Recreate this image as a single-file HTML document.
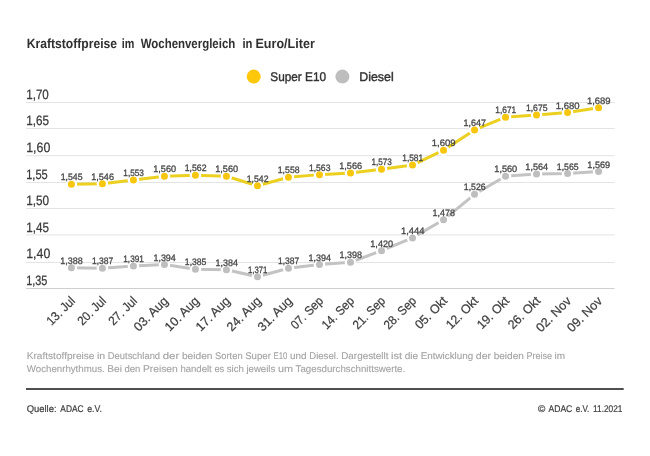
<!DOCTYPE html>
<html lang="de"><head><meta charset="utf-8"><title>Kraftstoffpreise im Wochenvergleich</title>
<style>
html,body{margin:0;padding:0;background:#fff;}
body{width:650px;height:456px;overflow:hidden;}
svg{display:block;will-change:transform;text-rendering:geometricPrecision;font-family:"Liberation Sans",sans-serif;}
</style></head><body>
<svg width="650" height="456" viewBox="0 0 650 456">
<rect width="650" height="456" fill="#fff"/>
<text y="47.7" font-size="13.4" font-weight="700" fill="#303030"><tspan x="26.7" textLength="90.4" lengthAdjust="spacingAndGlyphs">Kraftstoffpreise</tspan> <tspan x="121.8" textLength="12.6" lengthAdjust="spacingAndGlyphs">im</tspan> <tspan x="140.7" textLength="94.6" lengthAdjust="spacingAndGlyphs">Wochenvergleich</tspan> <tspan x="242.4" textLength="10.0" lengthAdjust="spacingAndGlyphs">in</tspan> <tspan x="255.5" textLength="59.3" lengthAdjust="spacingAndGlyphs">Euro/Liter</tspan></text>
<circle cx="253.7" cy="76.6" r="7" fill="#fdc80a"/>
<text x="270.3" y="81.2" font-size="12.6" fill="#333" stroke="#333" stroke-width="0.4" textLength="55.8" lengthAdjust="spacingAndGlyphs">Super E10</text>
<circle cx="342.4" cy="76.6" r="7" fill="#bebebe"/>
<text x="359.2" y="81.2" font-size="12.6" fill="#333" stroke="#333" stroke-width="0.4" textLength="34.5" lengthAdjust="spacingAndGlyphs">Diesel</text>
<line x1="26" x2="614.5" y1="102.50" y2="102.50" stroke="#e3e3e3" stroke-width="1"/>
<text x="26.2" y="98.90" font-size="13.6" fill="#3a3a3a" stroke="#3a3a3a" stroke-width="0.25" textLength="22.64" lengthAdjust="spacingAndGlyphs">1,70</text>
<line x1="26" x2="614.5" y1="128.50" y2="128.50" stroke="#e3e3e3" stroke-width="1"/>
<text x="26.2" y="125.48" font-size="13.6" fill="#3a3a3a" stroke="#3a3a3a" stroke-width="0.25" textLength="22.84" lengthAdjust="spacingAndGlyphs">1,65</text>
<line x1="26" x2="614.5" y1="155.70" y2="155.70" stroke="#e3e3e3" stroke-width="1"/>
<text x="26.2" y="152.06" font-size="13.6" fill="#3a3a3a" stroke="#3a3a3a" stroke-width="0.25" textLength="24.18" lengthAdjust="spacingAndGlyphs">1,60</text>
<line x1="26" x2="614.5" y1="182.50" y2="182.50" stroke="#e3e3e3" stroke-width="1"/>
<text x="26.2" y="178.64" font-size="13.6" fill="#3a3a3a" stroke="#3a3a3a" stroke-width="0.25" textLength="21.57" lengthAdjust="spacingAndGlyphs">1,55</text>
<line x1="26" x2="614.5" y1="208.50" y2="208.50" stroke="#e3e3e3" stroke-width="1"/>
<text x="26.2" y="205.22" font-size="13.6" fill="#3a3a3a" stroke="#3a3a3a" stroke-width="0.25" textLength="22.91" lengthAdjust="spacingAndGlyphs">1,50</text>
<line x1="26" x2="614.5" y1="234.90" y2="234.90" stroke="#e3e3e3" stroke-width="1"/>
<text x="26.2" y="231.80" font-size="13.6" fill="#3a3a3a" stroke="#3a3a3a" stroke-width="0.25" textLength="22.78" lengthAdjust="spacingAndGlyphs">1,45</text>
<line x1="26" x2="614.5" y1="262.50" y2="262.50" stroke="#e3e3e3" stroke-width="1"/>
<text x="26.2" y="258.38" font-size="13.6" fill="#3a3a3a" stroke="#3a3a3a" stroke-width="0.25" textLength="24.12" lengthAdjust="spacingAndGlyphs">1,40</text>
<line x1="26" x2="614.5" y1="288.50" y2="288.50" stroke="#cfcfcf" stroke-width="1"/>
<text x="26.2" y="284.96" font-size="13.6" fill="#3a3a3a" stroke="#3a3a3a" stroke-width="0.25" textLength="21.17" lengthAdjust="spacingAndGlyphs">1,35</text>
<polyline points="71.40,267.66 102.41,268.19 133.42,266.06 164.43,264.47 195.44,269.25 226.45,269.79 257.46,276.70 288.47,268.19 319.48,264.47 350.49,262.34 381.50,250.65 412.51,237.89 443.52,219.82 474.53,194.30 505.54,176.22 536.55,174.10 567.56,173.57 598.57,171.44" fill="none" stroke="#c3c3c3" stroke-width="3" stroke-linejoin="round" stroke-linecap="round"/>
<circle cx="71.40" cy="267.66" r="4.65" fill="#bebebe" stroke="#fff" stroke-width="2.3"/>
<circle cx="102.41" cy="268.19" r="4.65" fill="#bebebe" stroke="#fff" stroke-width="2.3"/>
<circle cx="133.42" cy="266.06" r="4.65" fill="#bebebe" stroke="#fff" stroke-width="2.3"/>
<circle cx="164.43" cy="264.47" r="4.65" fill="#bebebe" stroke="#fff" stroke-width="2.3"/>
<circle cx="195.44" cy="269.25" r="4.65" fill="#bebebe" stroke="#fff" stroke-width="2.3"/>
<circle cx="226.45" cy="269.79" r="4.65" fill="#bebebe" stroke="#fff" stroke-width="2.3"/>
<circle cx="257.46" cy="276.70" r="4.65" fill="#bebebe" stroke="#fff" stroke-width="2.3"/>
<circle cx="288.47" cy="268.19" r="4.65" fill="#bebebe" stroke="#fff" stroke-width="2.3"/>
<circle cx="319.48" cy="264.47" r="4.65" fill="#bebebe" stroke="#fff" stroke-width="2.3"/>
<circle cx="350.49" cy="262.34" r="4.65" fill="#bebebe" stroke="#fff" stroke-width="2.3"/>
<circle cx="381.50" cy="250.65" r="4.65" fill="#bebebe" stroke="#fff" stroke-width="2.3"/>
<circle cx="412.51" cy="237.89" r="4.65" fill="#bebebe" stroke="#fff" stroke-width="2.3"/>
<circle cx="443.52" cy="219.82" r="4.65" fill="#bebebe" stroke="#fff" stroke-width="2.3"/>
<circle cx="474.53" cy="194.30" r="4.65" fill="#bebebe" stroke="#fff" stroke-width="2.3"/>
<circle cx="505.54" cy="176.22" r="4.65" fill="#bebebe" stroke="#fff" stroke-width="2.3"/>
<circle cx="536.55" cy="174.10" r="4.65" fill="#bebebe" stroke="#fff" stroke-width="2.3"/>
<circle cx="567.56" cy="173.57" r="4.65" fill="#bebebe" stroke="#fff" stroke-width="2.3"/>
<circle cx="598.57" cy="171.44" r="4.65" fill="#bebebe" stroke="#fff" stroke-width="2.3"/>
<polyline points="71.40,184.20 102.41,183.67 133.42,179.95 164.43,176.22 195.44,175.16 226.45,176.22 257.46,185.79 288.47,177.29 319.48,174.63 350.49,173.03 381.50,169.31 412.51,165.06 443.52,150.18 474.53,129.97 505.54,117.22 536.55,115.09 567.56,112.43 598.57,107.65" fill="none" stroke="#ecd020" stroke-width="3" stroke-linejoin="round" stroke-linecap="round"/>
<circle cx="71.40" cy="184.20" r="4.65" fill="#f7c70f" stroke="#fff" stroke-width="2.3"/>
<circle cx="102.41" cy="183.67" r="4.65" fill="#f7c70f" stroke="#fff" stroke-width="2.3"/>
<circle cx="133.42" cy="179.95" r="4.65" fill="#f7c70f" stroke="#fff" stroke-width="2.3"/>
<circle cx="164.43" cy="176.22" r="4.65" fill="#f7c70f" stroke="#fff" stroke-width="2.3"/>
<circle cx="195.44" cy="175.16" r="4.65" fill="#f7c70f" stroke="#fff" stroke-width="2.3"/>
<circle cx="226.45" cy="176.22" r="4.65" fill="#f7c70f" stroke="#fff" stroke-width="2.3"/>
<circle cx="257.46" cy="185.79" r="4.65" fill="#f7c70f" stroke="#fff" stroke-width="2.3"/>
<circle cx="288.47" cy="177.29" r="4.65" fill="#f7c70f" stroke="#fff" stroke-width="2.3"/>
<circle cx="319.48" cy="174.63" r="4.65" fill="#f7c70f" stroke="#fff" stroke-width="2.3"/>
<circle cx="350.49" cy="173.03" r="4.65" fill="#f7c70f" stroke="#fff" stroke-width="2.3"/>
<circle cx="381.50" cy="169.31" r="4.65" fill="#f7c70f" stroke="#fff" stroke-width="2.3"/>
<circle cx="412.51" cy="165.06" r="4.65" fill="#f7c70f" stroke="#fff" stroke-width="2.3"/>
<circle cx="443.52" cy="150.18" r="4.65" fill="#f7c70f" stroke="#fff" stroke-width="2.3"/>
<circle cx="474.53" cy="129.97" r="4.65" fill="#f7c70f" stroke="#fff" stroke-width="2.3"/>
<circle cx="505.54" cy="117.22" r="4.65" fill="#f7c70f" stroke="#fff" stroke-width="2.3"/>
<circle cx="536.55" cy="115.09" r="4.65" fill="#f7c70f" stroke="#fff" stroke-width="2.3"/>
<circle cx="567.56" cy="112.43" r="4.65" fill="#f7c70f" stroke="#fff" stroke-width="2.3"/>
<circle cx="598.57" cy="107.65" r="4.65" fill="#f7c70f" stroke="#fff" stroke-width="2.3"/>
<text x="71.60" y="263.76" font-size="9.4" fill="#454545" stroke="#454545" stroke-width="0.3" text-anchor="middle" textLength="22.52" lengthAdjust="spacingAndGlyphs">1,388</text>
<text x="102.61" y="264.29" font-size="9.4" fill="#454545" stroke="#454545" stroke-width="0.3" text-anchor="middle" textLength="21.36" lengthAdjust="spacingAndGlyphs">1,387</text>
<text x="133.62" y="262.16" font-size="9.4" fill="#454545" stroke="#454545" stroke-width="0.3" text-anchor="middle" textLength="20.65" lengthAdjust="spacingAndGlyphs">1,391</text>
<text x="164.63" y="260.57" font-size="9.4" fill="#454545" stroke="#454545" stroke-width="0.3" text-anchor="middle" textLength="22.47" lengthAdjust="spacingAndGlyphs">1,394</text>
<text x="195.64" y="265.35" font-size="9.4" fill="#454545" stroke="#454545" stroke-width="0.3" text-anchor="middle" textLength="21.56" lengthAdjust="spacingAndGlyphs">1,385</text>
<text x="226.65" y="265.89" font-size="9.4" fill="#454545" stroke="#454545" stroke-width="0.3" text-anchor="middle" textLength="22.47" lengthAdjust="spacingAndGlyphs">1,384</text>
<text x="257.66" y="272.80" font-size="9.4" fill="#454545" stroke="#454545" stroke-width="0.3" text-anchor="middle" textLength="19.49" lengthAdjust="spacingAndGlyphs">1,371</text>
<text x="288.67" y="264.29" font-size="9.4" fill="#454545" stroke="#454545" stroke-width="0.3" text-anchor="middle" textLength="21.36" lengthAdjust="spacingAndGlyphs">1,387</text>
<text x="319.68" y="260.57" font-size="9.4" fill="#454545" stroke="#454545" stroke-width="0.3" text-anchor="middle" textLength="22.47" lengthAdjust="spacingAndGlyphs">1,394</text>
<text x="350.69" y="258.44" font-size="9.4" fill="#454545" stroke="#454545" stroke-width="0.3" text-anchor="middle" textLength="22.52" lengthAdjust="spacingAndGlyphs">1,398</text>
<text x="381.70" y="246.75" font-size="9.4" fill="#454545" stroke="#454545" stroke-width="0.3" text-anchor="middle" textLength="22.83" lengthAdjust="spacingAndGlyphs">1,420</text>
<text x="412.71" y="233.99" font-size="9.4" fill="#454545" stroke="#454545" stroke-width="0.3" text-anchor="middle" textLength="23.63" lengthAdjust="spacingAndGlyphs">1,444</text>
<text x="443.72" y="215.92" font-size="9.4" fill="#454545" stroke="#454545" stroke-width="0.3" text-anchor="middle" textLength="22.57" lengthAdjust="spacingAndGlyphs">1,478</text>
<text x="474.73" y="190.40" font-size="9.4" fill="#454545" stroke="#454545" stroke-width="0.3" text-anchor="middle" textLength="21.87" lengthAdjust="spacingAndGlyphs">1,526</text>
<text x="505.74" y="172.32" font-size="9.4" fill="#454545" stroke="#454545" stroke-width="0.3" text-anchor="middle" textLength="22.88" lengthAdjust="spacingAndGlyphs">1,560</text>
<text x="536.75" y="170.20" font-size="9.4" fill="#454545" stroke="#454545" stroke-width="0.3" text-anchor="middle" textLength="22.78" lengthAdjust="spacingAndGlyphs">1,564</text>
<text x="567.76" y="169.67" font-size="9.4" fill="#454545" stroke="#454545" stroke-width="0.3" text-anchor="middle" textLength="21.87" lengthAdjust="spacingAndGlyphs">1,565</text>
<text x="598.77" y="167.54" font-size="9.4" fill="#454545" stroke="#454545" stroke-width="0.3" text-anchor="middle" textLength="22.83" lengthAdjust="spacingAndGlyphs">1,569</text>
<text x="71.60" y="180.30" font-size="9.4" fill="#454545" stroke="#454545" stroke-width="0.3" text-anchor="middle" textLength="21.82" lengthAdjust="spacingAndGlyphs">1,545</text>
<text x="102.61" y="179.77" font-size="9.4" fill="#454545" stroke="#454545" stroke-width="0.3" text-anchor="middle" textLength="22.78" lengthAdjust="spacingAndGlyphs">1,546</text>
<text x="133.62" y="176.05" font-size="9.4" fill="#454545" stroke="#454545" stroke-width="0.3" text-anchor="middle" textLength="20.60" lengthAdjust="spacingAndGlyphs">1,553</text>
<text x="164.63" y="172.32" font-size="9.4" fill="#454545" stroke="#454545" stroke-width="0.3" text-anchor="middle" textLength="22.88" lengthAdjust="spacingAndGlyphs">1,560</text>
<text x="195.64" y="171.26" font-size="9.4" fill="#454545" stroke="#454545" stroke-width="0.3" text-anchor="middle" textLength="21.87" lengthAdjust="spacingAndGlyphs">1,562</text>
<text x="226.65" y="172.32" font-size="9.4" fill="#454545" stroke="#454545" stroke-width="0.3" text-anchor="middle" textLength="22.88" lengthAdjust="spacingAndGlyphs">1,560</text>
<text x="257.66" y="181.89" font-size="9.4" fill="#454545" stroke="#454545" stroke-width="0.3" text-anchor="middle" textLength="21.82" lengthAdjust="spacingAndGlyphs">1,542</text>
<text x="288.67" y="173.39" font-size="9.4" fill="#454545" stroke="#454545" stroke-width="0.3" text-anchor="middle" textLength="21.87" lengthAdjust="spacingAndGlyphs">1,558</text>
<text x="319.68" y="170.73" font-size="9.4" fill="#454545" stroke="#454545" stroke-width="0.3" text-anchor="middle" textLength="21.56" lengthAdjust="spacingAndGlyphs">1,563</text>
<text x="350.69" y="169.13" font-size="9.4" fill="#454545" stroke="#454545" stroke-width="0.3" text-anchor="middle" textLength="22.83" lengthAdjust="spacingAndGlyphs">1,566</text>
<text x="381.70" y="165.41" font-size="9.4" fill="#454545" stroke="#454545" stroke-width="0.3" text-anchor="middle" textLength="20.40" lengthAdjust="spacingAndGlyphs">1,573</text>
<text x="412.71" y="161.16" font-size="9.4" fill="#454545" stroke="#454545" stroke-width="0.3" text-anchor="middle" textLength="20.96" lengthAdjust="spacingAndGlyphs">1,581</text>
<text x="443.72" y="146.28" font-size="9.4" fill="#454545" stroke="#454545" stroke-width="0.3" text-anchor="middle" textLength="23.84" lengthAdjust="spacingAndGlyphs">1,609</text>
<text x="474.73" y="126.07" font-size="9.4" fill="#454545" stroke="#454545" stroke-width="0.3" text-anchor="middle" textLength="22.57" lengthAdjust="spacingAndGlyphs">1,647</text>
<text x="505.74" y="113.32" font-size="9.4" fill="#454545" stroke="#454545" stroke-width="0.3" text-anchor="middle" textLength="20.76" lengthAdjust="spacingAndGlyphs">1,671</text>
<text x="536.75" y="111.19" font-size="9.4" fill="#454545" stroke="#454545" stroke-width="0.3" text-anchor="middle" textLength="21.66" lengthAdjust="spacingAndGlyphs">1,675</text>
<text x="567.76" y="108.53" font-size="9.4" fill="#454545" stroke="#454545" stroke-width="0.3" text-anchor="middle" textLength="23.84" lengthAdjust="spacingAndGlyphs">1,680</text>
<text x="598.77" y="103.75" font-size="9.4" fill="#454545" stroke="#454545" stroke-width="0.3" text-anchor="middle" textLength="23.79" lengthAdjust="spacingAndGlyphs">1,689</text>
<text transform="translate(75.90 301.70) rotate(-45)" font-size="12.6" fill="#3e3e3e" stroke="#3e3e3e" stroke-width="0.22" text-anchor="end" textLength="34.52" lengthAdjust="spacingAndGlyphs">13. Jul</text>
<text transform="translate(106.91 301.70) rotate(-45)" font-size="12.6" fill="#3e3e3e" stroke="#3e3e3e" stroke-width="0.22" text-anchor="end" textLength="34.52" lengthAdjust="spacingAndGlyphs">20. Jul</text>
<text transform="translate(137.92 301.70) rotate(-45)" font-size="12.6" fill="#3e3e3e" stroke="#3e3e3e" stroke-width="0.22" text-anchor="end" textLength="34.52" lengthAdjust="spacingAndGlyphs">27. Jul</text>
<text transform="translate(168.93 301.70) rotate(-45)" font-size="12.6" fill="#3e3e3e" stroke="#3e3e3e" stroke-width="0.22" text-anchor="end" textLength="42.74" lengthAdjust="spacingAndGlyphs">03. Aug</text>
<text transform="translate(199.94 301.70) rotate(-45)" font-size="12.6" fill="#3e3e3e" stroke="#3e3e3e" stroke-width="0.22" text-anchor="end" textLength="42.74" lengthAdjust="spacingAndGlyphs">10. Aug</text>
<text transform="translate(230.95 301.70) rotate(-45)" font-size="12.6" fill="#3e3e3e" stroke="#3e3e3e" stroke-width="0.22" text-anchor="end" textLength="42.74" lengthAdjust="spacingAndGlyphs">17. Aug</text>
<text transform="translate(261.96 301.70) rotate(-45)" font-size="12.6" fill="#3e3e3e" stroke="#3e3e3e" stroke-width="0.22" text-anchor="end" textLength="42.74" lengthAdjust="spacingAndGlyphs">24. Aug</text>
<text transform="translate(292.97 301.70) rotate(-45)" font-size="12.6" fill="#3e3e3e" stroke="#3e3e3e" stroke-width="0.22" text-anchor="end" textLength="42.74" lengthAdjust="spacingAndGlyphs">31. Aug</text>
<text transform="translate(323.98 301.70) rotate(-45)" font-size="12.6" fill="#3e3e3e" stroke="#3e3e3e" stroke-width="0.22" text-anchor="end" textLength="39.96" lengthAdjust="spacingAndGlyphs">07. Sep</text>
<text transform="translate(354.99 301.70) rotate(-45)" font-size="12.6" fill="#3e3e3e" stroke="#3e3e3e" stroke-width="0.22" text-anchor="end" textLength="39.96" lengthAdjust="spacingAndGlyphs">14. Sep</text>
<text transform="translate(386.00 301.70) rotate(-45)" font-size="12.6" fill="#3e3e3e" stroke="#3e3e3e" stroke-width="0.22" text-anchor="end" textLength="39.96" lengthAdjust="spacingAndGlyphs">21. Sep</text>
<text transform="translate(417.01 301.70) rotate(-45)" font-size="12.6" fill="#3e3e3e" stroke="#3e3e3e" stroke-width="0.22" text-anchor="end" textLength="39.96" lengthAdjust="spacingAndGlyphs">28. Sep</text>
<text transform="translate(448.02 301.70) rotate(-45)" font-size="12.6" fill="#3e3e3e" stroke="#3e3e3e" stroke-width="0.22" text-anchor="end" textLength="39.81" lengthAdjust="spacingAndGlyphs">05. Okt</text>
<text transform="translate(479.03 301.70) rotate(-45)" font-size="12.6" fill="#3e3e3e" stroke="#3e3e3e" stroke-width="0.22" text-anchor="end" textLength="39.81" lengthAdjust="spacingAndGlyphs">12. Okt</text>
<text transform="translate(510.04 301.70) rotate(-45)" font-size="12.6" fill="#3e3e3e" stroke="#3e3e3e" stroke-width="0.22" text-anchor="end" textLength="39.81" lengthAdjust="spacingAndGlyphs">19. Okt</text>
<text transform="translate(541.05 301.70) rotate(-45)" font-size="12.6" fill="#3e3e3e" stroke="#3e3e3e" stroke-width="0.22" text-anchor="end" textLength="39.81" lengthAdjust="spacingAndGlyphs">26. Okt</text>
<text transform="translate(572.06 301.70) rotate(-45)" font-size="12.6" fill="#3e3e3e" stroke="#3e3e3e" stroke-width="0.22" text-anchor="end" textLength="43.86" lengthAdjust="spacingAndGlyphs">02. Nov</text>
<text transform="translate(603.07 301.70) rotate(-45)" font-size="12.6" fill="#3e3e3e" stroke="#3e3e3e" stroke-width="0.22" text-anchor="end" textLength="43.86" lengthAdjust="spacingAndGlyphs">09. Nov</text>
<text y="359.2" font-size="9.7" fill="#a4a4a4" stroke="#a4a4a4" stroke-width="0.12"><tspan x="26.8" textLength="67.6" lengthAdjust="spacingAndGlyphs">Kraftstoffpreise</tspan> <tspan x="97.0" textLength="8.2" lengthAdjust="spacingAndGlyphs">in</tspan> <tspan x="107.8" textLength="52.3" lengthAdjust="spacingAndGlyphs">Deutschland</tspan> <tspan x="162.7" textLength="16.6" lengthAdjust="spacingAndGlyphs">der</tspan> <tspan x="181.9" textLength="30.6" lengthAdjust="spacingAndGlyphs">beiden</tspan> <tspan x="215.1" textLength="27.5" lengthAdjust="spacingAndGlyphs">Sorten</tspan> <tspan x="245.2" textLength="25.7" lengthAdjust="spacingAndGlyphs">Super</tspan> <tspan x="273.5" textLength="13.9" lengthAdjust="spacingAndGlyphs">E10</tspan> <tspan x="290.0" textLength="16.6" lengthAdjust="spacingAndGlyphs">und</tspan> <tspan x="309.2" textLength="29.4" lengthAdjust="spacingAndGlyphs">Diesel.</tspan> <tspan x="341.2" textLength="47.3" lengthAdjust="spacingAndGlyphs">Dargestellt</tspan> <tspan x="391.1" textLength="11.0" lengthAdjust="spacingAndGlyphs">ist</tspan> <tspan x="404.7" textLength="13.4" lengthAdjust="spacingAndGlyphs">die</tspan> <tspan x="420.7" textLength="52.5" lengthAdjust="spacingAndGlyphs">Entwicklung</tspan> <tspan x="475.8" textLength="15.3" lengthAdjust="spacingAndGlyphs">der</tspan> <tspan x="493.7" textLength="30.1" lengthAdjust="spacingAndGlyphs">beiden</tspan> <tspan x="526.4" textLength="25.5" lengthAdjust="spacingAndGlyphs">Preise</tspan> <tspan x="554.5" textLength="10.6" lengthAdjust="spacingAndGlyphs">im</tspan></text>
<text y="371.7" font-size="9.7" fill="#a4a4a4" stroke="#a4a4a4" stroke-width="0.12"><tspan x="26.8" textLength="77.9" lengthAdjust="spacingAndGlyphs">Wochenrhythmus.</tspan> <tspan x="107.3" textLength="14.6" lengthAdjust="spacingAndGlyphs">Bei</tspan> <tspan x="124.5" textLength="15.9" lengthAdjust="spacingAndGlyphs">den</tspan> <tspan x="143.0" textLength="34.8" lengthAdjust="spacingAndGlyphs">Preisen</tspan> <tspan x="180.4" textLength="31.4" lengthAdjust="spacingAndGlyphs">handelt</tspan> <tspan x="214.4" textLength="9.7" lengthAdjust="spacingAndGlyphs">es</tspan> <tspan x="226.7" textLength="17.1" lengthAdjust="spacingAndGlyphs">sich</tspan> <tspan x="246.4" textLength="28.9" lengthAdjust="spacingAndGlyphs">jeweils</tspan> <tspan x="277.9" textLength="15.1" lengthAdjust="spacingAndGlyphs">um</tspan> <tspan x="295.6" textLength="109.6" lengthAdjust="spacingAndGlyphs">Tagesdurchschnittswerte.</tspan></text>
<rect x="26" y="388.1" width="597.7" height="1.8" fill="#3c3c3c"/>
<text y="412.1" font-size="9.7" fill="#404040" stroke="#404040" stroke-width="0.2"><tspan x="26.7" textLength="29.9" lengthAdjust="spacingAndGlyphs">Quelle:</tspan> <tspan x="60.3" textLength="23.3" lengthAdjust="spacingAndGlyphs">ADAC</tspan> <tspan x="87.2" textLength="14.7" lengthAdjust="spacingAndGlyphs">e.V.</tspan></text>
<text y="412.1" font-size="9.7" fill="#404040" stroke="#404040" stroke-width="0.2"><tspan x="538.0" textLength="7.3" lengthAdjust="spacingAndGlyphs">©</tspan> <tspan x="548.5" textLength="23.8" lengthAdjust="spacingAndGlyphs">ADAC</tspan> <tspan x="575.8" textLength="13.5" lengthAdjust="spacingAndGlyphs">e.V.</tspan> <tspan x="593.1" textLength="29.3" lengthAdjust="spacingAndGlyphs">11.2021</tspan></text>
</svg>
</body></html>
